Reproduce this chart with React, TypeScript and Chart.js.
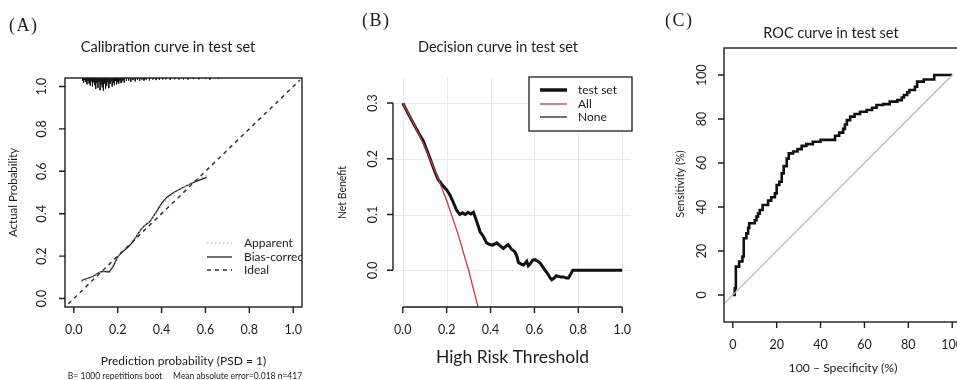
import React, { useEffect, useRef } from "react";
import { Chart, registerables } from "chart.js";

Chart.register(...registerables);

const SANS = "Lato, 'Open Sans', Arial, sans-serif";
const SERIF = "'Liberation Serif', 'DejaVu Serif', serif";
const INK = "#1c1c1c";

// ---------------- Panel A: calibration curve ----------------
const calTicks = [0, 0.2, 0.4, 0.6, 0.8, 1.0];
const calTickLabels = ["0.0", "0.2", "0.4", "0.6", "0.8", "1.0"];
const calPred = [0.035, 0.088, 0.119, 0.134, 0.161, 0.18, 0.202, 0.218, 0.248, 0.271, 0.294, 0.317, 0.347, 0.377, 0.40, 0.423, 0.453, 0.492, 0.53, 0.56, 0.606];
const biasCorrected = [0.085, 0.105, 0.125, 0.128, 0.125, 0.152, 0.199, 0.217, 0.243, 0.269, 0.308, 0.339, 0.363, 0.41, 0.449, 0.477, 0.499, 0.52, 0.54, 0.554, 0.571];
const apparent = [0.078, 0.1, 0.122, 0.13, 0.132, 0.16, 0.2, 0.222, 0.25, 0.274, 0.31, 0.338, 0.366, 0.405, 0.44, 0.47, 0.494, 0.518, 0.542, 0.56, 0.58];
const idealX = [-0.025, 1.03];
const rugX = [
  0.040, 0.045, 0.050, 0.055, 0.060, 0.065, 0.070, 0.075, 0.080, 0.085,
  0.090, 0.095, 0.100, 0.105, 0.110, 0.115, 0.120, 0.125, 0.130, 0.135,
  0.140, 0.145, 0.150, 0.155, 0.160, 0.165, 0.170, 0.175, 0.180, 0.185,
  0.190, 0.195, 0.200, 0.205, 0.210, 0.215, 0.220, 0.225, 0.230, 0.240,
  0.250, 0.260, 0.270, 0.280, 0.290, 0.300, 0.310, 0.320, 0.330, 0.345,
  0.360, 0.375, 0.390, 0.405, 0.420, 0.440, 0.460, 0.480, 0.500, 0.520,
  0.545, 0.570, 0.600, 0.620, 0.660,
];
const rugH = [
  0.012, 0.022, 0.010, 0.018, 0.030, 0.014, 0.026, 0.036, 0.016, 0.040,
  0.020, 0.034, 0.052, 0.024, 0.046, 0.018, 0.058, 0.030, 0.044, 0.060,
  0.026, 0.050, 0.036, 0.020, 0.048, 0.028, 0.016, 0.040, 0.022, 0.034,
  0.014, 0.030, 0.020, 0.026, 0.012, 0.024, 0.016, 0.010, 0.022, 0.014,
  0.012, 0.018, 0.010, 0.016, 0.009, 0.014, 0.008, 0.012, 0.008, 0.011,
  0.007, 0.010, 0.008, 0.007, 0.006, 0.009, 0.006, 0.007, 0.006, 0.007,
  0.005, 0.006, 0.005, 0.008, 0.005,
];
const calLegend = ["Apparent", "Bias-corrected", "Ideal"];

// ---------------- Panel B: decision curve ----------------
const dcXTicks = [0, 0.2, 0.4, 0.6, 0.8, 1.0];
const dcXLabels = ["0.0", "0.2", "0.4", "0.6", "0.8", "1.0"];
const dcYTicks = [0, 0.1, 0.2, 0.3];
const dcYLabels = ["0.0", "0.1", "0.2", "0.3"];
const thrTest = [
  0, 0.03, 0.06, 0.093, 0.12, 0.145, 0.161, 0.18, 0.2, 0.215,
  0.23, 0.245, 0.26, 0.272, 0.285, 0.298, 0.31, 0.322, 0.333, 0.345,
  0.352, 0.365, 0.382, 0.397, 0.41, 0.428, 0.443, 0.458, 0.47, 0.48,
  0.495, 0.511, 0.52, 0.527, 0.54, 0.55, 0.565, 0.572, 0.58, 0.592,
  0.603, 0.615, 0.626, 0.638, 0.648, 0.66, 0.67, 0.679, 0.69, 0.7,
  0.709, 0.72, 0.732, 0.745, 0.755, 0.765, 0.775, 1.0,
];
const nbTest = [
  0.30, 0.277, 0.255, 0.232, 0.205, 0.178, 0.163, 0.153, 0.144, 0.135,
  0.122, 0.108, 0.100, 0.103, 0.100, 0.104, 0.101, 0.104, 0.092, 0.078,
  0.069, 0.062, 0.049, 0.046, 0.045, 0.049, 0.044, 0.039, 0.043, 0.046,
  0.038, 0.033, 0.025, 0.014, 0.011, 0.009, 0.016, 0.008, 0.011, 0.018,
  0.019, 0.016, 0.013, 0.006, 0.000, -0.006, -0.013, -0.017, -0.014, -0.010,
  -0.011, -0.012, -0.012, -0.014, -0.014, -0.007, 0.000, 0.000,
];
const thrAll = [0, 0.05, 0.1, 0.15, 0.2, 0.25, 0.3, 0.35];
const nbAll = [0.30, 0.263, 0.222, 0.176, 0.125, 0.067, 0.0, -0.077];
const thrNone = [0, 1];
const nbNone = [0, 0];
const dcLegend = ["test set", "All", "None"];

// ---------------- Panel C: ROC curve ----------------
const rocTicks = [0, 20, 40, 60, 80, 100];
const rocFpr = [
  0, 0.9, 0.9, 1.4, 1.4, 2.9, 2.9, 4.4, 4.4, 5, 5, 6.2, 6.2, 7, 7, 7.5, 7.5, 10, 10, 10.8,
  10.8, 11.5, 11.5, 12.3, 12.3, 13.6, 13.6, 16.1, 16.1, 17.5, 17.5, 19.2, 19.2, 20, 20, 21.2, 21.2, 22.3, 22.3, 23.2,
  23.2, 24.6, 24.6, 25.5, 25.5, 27.5, 27.5, 29.5, 29.5, 31.4, 31.4, 33.5, 33.5, 36.5, 36.5, 40, 40, 46.6, 46.6, 48.5,
  48.5, 50.3, 50.3, 51.1, 51.1, 52, 52, 53.5, 53.5, 55.5, 55.5, 58, 58, 61, 61, 63.5, 63.5, 65.5, 65.5, 68.5,
  68.5, 71.5, 71.5, 75, 75, 77, 77, 78, 78, 79.5, 79.5, 80.5, 80.5, 83, 83, 84, 84, 87, 87, 91.8,
  91.8, 100,
];
const rocTpr = [
  0, 0, 3, 3, 12.9, 12.9, 15.2, 15.2, 17.5, 17.5, 25.8, 25.8, 28, 28, 30.5, 30.5, 32.6, 32.6, 34, 34,
  35.6, 35.6, 37, 37, 38.6, 38.6, 40.9, 40.9, 42.9, 42.9, 44.4, 44.4, 46.2, 46.2, 50, 50, 51.5, 51.5, 55.3, 55.3,
  58.6, 58.6, 62, 62, 64.4, 64.4, 65.2, 65.2, 66.3, 66.3, 67.8, 67.8, 68.6, 68.6, 69.7, 69.7, 70.5, 70.5, 72.4, 72.4,
  73.8, 73.8, 75.5, 75.5, 77.5, 77.5, 79.5, 79.5, 81.1, 81.1, 82.3, 82.3, 83.3, 83.3, 84.1, 84.1, 85.1, 85.1, 86.4, 86.4,
  86.8, 86.8, 87.9, 87.9, 88.6, 88.6, 89.8, 89.8, 90.9, 90.9, 92.2, 92.2, 93.2, 93.2, 94.7, 94.7, 97, 97, 98, 98,
  100, 100,
];
const diagX = [-4, 100];

// ---------------- helpers ----------------
const pts = (xs: number[], ys: number[]) => xs.map((x, i) => ({ x, y: ys[i] }));

function txt(ctx: CanvasRenderingContext2D, s: string, x: number, y: number, font: string, align: CanvasTextAlign = "center", rot = 0, color = INK, spacing = "0px") {
  ctx.save();
  ctx.translate(x, y);
  if (rot) ctx.rotate(rot);
  ctx.font = font;
  (ctx as any).letterSpacing = spacing;
  ctx.fillStyle = color;
  ctx.textAlign = align;
  ctx.textBaseline = "middle";
  ctx.fillText(s, 0, 0);
  ctx.restore();
}

function xTicks(chart: any, ticks: number[], labels: string[], y: number, len: number, labelY: number, font: string, lineFrom?: number, lineTo?: number) {
  const ctx = chart.ctx as CanvasRenderingContext2D;
  const xs = chart.scales.x;
  ctx.save();
  ctx.strokeStyle = INK;
  ctx.lineWidth = 1.4;
  ctx.beginPath();
  if (lineFrom !== undefined && lineTo !== undefined) {
    ctx.moveTo(xs.getPixelForValue(lineFrom), y);
    ctx.lineTo(xs.getPixelForValue(lineTo), y);
  }
  ticks.forEach((t) => {
    const p = xs.getPixelForValue(t);
    ctx.moveTo(p, y);
    ctx.lineTo(p, y + len);
  });
  ctx.stroke();
  ctx.restore();
  ticks.forEach((t, i) => txt(ctx, labels[i], xs.getPixelForValue(t), labelY, font));
}

function yTicks(chart: any, ticks: number[], labels: string[], x: number, len: number, labelX: number, font: string, lineFrom?: number, lineTo?: number) {
  const ctx = chart.ctx as CanvasRenderingContext2D;
  const ys = chart.scales.y;
  ctx.save();
  ctx.strokeStyle = INK;
  ctx.lineWidth = 1.4;
  ctx.beginPath();
  if (lineFrom !== undefined && lineTo !== undefined) {
    ctx.moveTo(x, ys.getPixelForValue(lineFrom));
    ctx.lineTo(x, ys.getPixelForValue(lineTo));
  }
  ticks.forEach((t) => {
    const p = ys.getPixelForValue(t);
    ctx.moveTo(x, p);
    ctx.lineTo(x - len, p);
  });
  ctx.stroke();
  ctx.restore();
  ticks.forEach((t, i) => txt(ctx, labels[i], labelX, ys.getPixelForValue(t), font, "center", -Math.PI / 2));
}

function box(chart: any) {
  const ctx = chart.ctx as CanvasRenderingContext2D;
  const a = chart.chartArea;
  ctx.save();
  ctx.strokeStyle = INK;
  ctx.lineWidth = 1.4;
  ctx.strokeRect(a.left, a.top, a.right - a.left, a.bottom - a.top);
  ctx.restore();
}

function baseOptions(pad: any, xmin: number, xmax: number, ymin: number, ymax: number) {
  return {
    responsive: false,
    maintainAspectRatio: false,
    animation: false as const,
    devicePixelRatio: 1,
    events: [] as any[],
    layout: { padding: pad },
    plugins: { legend: { display: false }, tooltip: { enabled: false }, title: { display: false } },
    elements: { point: { radius: 0 }, line: { tension: 0 } },
    scales: {
      x: { type: "linear" as const, min: xmin, max: xmax, display: false },
      y: { type: "linear" as const, min: ymin, max: ymax, display: false },
    },
  };
}

const TICKF = `12.5px ${SANS}`;
const TITLEF = `14.5px ${SANS}`;

// ---------------- configs ----------------
function buildA(): any {
  const rug: any[] = [];
  rugX.forEach((x, i) => {
    rug.push({ x, y: 1.04 });
    rug.push({ x, y: 1.04 - rugH[i] });
    rug.push({ x, y: null });
  });
  return {
    type: "scatter",
    data: {
      datasets: [
        { label: "rug", data: rug, showLine: true, borderColor: "#111", borderWidth: 0.9, spanGaps: false },
        { label: "Ideal", data: pts(idealX, idealX), showLine: true, borderColor: "#333", borderWidth: 1.5, borderDash: [4, 4] },
        { label: "Apparent", data: pts(calPred, apparent), showLine: true, borderColor: "#aaaaaa", borderWidth: 1.2, borderDash: [1.5, 2.5] },
        { label: "Bias-corrected", data: pts(calPred, biasCorrected), showLine: true, borderColor: "#222", borderWidth: 1.3 },
      ],
    },
    options: baseOptions({ left: 65, top: 78, right: 16, bottom: 73 }, -0.04, 1.04, -0.04, 1.04),
    plugins: [
      {
        id: "rA",
        afterDraw(chart: any) {
          const ctx = chart.ctx as CanvasRenderingContext2D;
          const a = chart.chartArea;
          box(chart);
          xTicks(chart, calTicks, calTickLabels, a.bottom, 6, 330, TICKF);
          yTicks(chart, calTicks, calTickLabels, a.left, 6, 42, TICKF);
          // legend (clipped by the plot box)
          ctx.save();
          ctx.beginPath();
          ctx.rect(a.left, a.top, a.right - a.left, a.bottom - a.top);
          ctx.clip();
          const rows = [243, 257, 270];
          const styles = [
            { c: "#aaaaaa", w: 1.2, d: [1.5, 2.5] },
            { c: "#222", w: 1.3, d: [] as number[] },
            { c: "#333", w: 1.5, d: [4, 4] },
          ];
          rows.forEach((ry, i) => {
            ctx.strokeStyle = styles[i].c;
            ctx.lineWidth = styles[i].w;
            ctx.setLineDash(styles[i].d);
            ctx.beginPath();
            ctx.moveTo(207, ry);
            ctx.lineTo(232, ry);
            ctx.stroke();
            ctx.setLineDash([]);
            txt(ctx, calLegend[i], 244, ry, `12px ${SANS}`, "left");
          });
          ctx.restore();
          txt(ctx, "(A)", 9, 26, `18px ${SERIF}`, "left", 0, INK, "1.5px");
          txt(ctx, "Calibration curve in test set", 168, 47, TITLEF);
          txt(ctx, "Actual Probability", 13, (a.top + a.bottom) / 2, `11.5px ${SANS}`, "center", -Math.PI / 2);
          txt(ctx, "Prediction probability (PSD = 1)", (a.left + a.right) / 2, 361, `12px ${SANS}`);
          txt(ctx, "B= 1000 repetitions boot     Mean absolute error=0.018 n=417", 185, 376, `8.5px ${SANS}`);
        },
      },
    ],
  };
}

function buildB(): any {
  return {
    type: "scatter",
    data: {
      datasets: [
        { label: "All", data: pts(thrAll, nbAll), showLine: true, borderColor: "#c43c3c", borderWidth: 1.3 },
        { label: "None", data: pts(thrNone, nbNone), showLine: true, borderColor: "rgba(0,0,0,0)", borderWidth: 1.2 },
        { label: "test set", data: pts(thrTest, nbTest), showLine: true, borderColor: "#111", borderWidth: 3 },
      ],
    },
    options: baseOptions({ left: 76, top: 78, right: 9, bottom: 73 }, -0.04, 1.04, -0.066, 0.345),
    plugins: [
      {
        id: "gridB",
        beforeDatasetsDraw(chart: any) {
          const ctx = chart.ctx as CanvasRenderingContext2D;
          const a = chart.chartArea;
          ctx.save();
          ctx.strokeStyle = "#e9e9e9";
          ctx.lineWidth = 1;
          ctx.beginPath();
          dcXTicks.forEach((t) => {
            const p = Math.round(chart.scales.x.getPixelForValue(t)) + 0.5;
            ctx.moveTo(p, a.top);
            ctx.lineTo(p, a.bottom);
          });
          dcYTicks.forEach((t) => {
            const p = Math.round(chart.scales.y.getPixelForValue(t)) + 0.5;
            ctx.moveTo(a.left, p);
            ctx.lineTo(a.right, p);
          });
          ctx.stroke();
          ctx.restore();
        },
        afterDraw(chart: any) {
          const ctx = chart.ctx as CanvasRenderingContext2D;
          const a = chart.chartArea;
          xTicks(chart, dcXTicks, dcXLabels, a.bottom, 6, 330, TICKF, 0, 1);
          yTicks(chart, dcYTicks, dcYLabels, a.left - 1, 6, 55, TICKF, 0, 0.3);
          // legend box
          ctx.save();
          ctx.fillStyle = "#fff";
          ctx.fillRect(211, 77, 103, 54);
          ctx.strokeStyle = INK;
          ctx.lineWidth = 1.3;
          ctx.strokeRect(211, 77, 103, 54);
          const rows = [90, 104, 117];
          const st = [
            { c: "#111", w: 3.5 },
            { c: "#c43c3c", w: 1.3 },
            { c: "#222", w: 1.3 },
          ];
          rows.forEach((ry, i) => {
            ctx.strokeStyle = st[i].c;
            ctx.lineWidth = st[i].w;
            ctx.beginPath();
            ctx.moveTo(222, ry);
            ctx.lineTo(249, ry);
            ctx.stroke();
            txt(ctx, dcLegend[i], 260, ry, `12px ${SANS}`, "left");
          });
          ctx.restore();
          txt(ctx, "(B)", 44, 21, `18px ${SERIF}`, "left", 0, INK, "1.5px");
          txt(ctx, "Decision curve in test set", 180, 47, TITLEF);
          txt(ctx, "Net Benefit", 25, (a.top + a.bottom) / 2, `10.5px ${SANS}`, "center", -Math.PI / 2);
          txt(ctx, "High Risk Threshold", (a.left + a.right) / 2, 357, `17.5px ${SANS}`);
        },
      },
    ],
  };
}

function buildC(): any {
  return {
    type: "scatter",
    data: {
      datasets: [
        { label: "chance", data: pts(diagX, diagX), showLine: true, borderColor: "#b5b5b5", borderWidth: 1.2 },
        { label: "ROC", data: pts(rocFpr, rocTpr), showLine: true, borderColor: "#111", borderWidth: 2.6 },
      ],
    },
    options: baseOptions({ left: 84, top: 48, right: 9, bottom: 58 }, -4, 104, -12.3, 112.3),
    plugins: [
      {
        id: "rC",
        afterDraw(chart: any) {
          const ctx = chart.ctx as CanvasRenderingContext2D;
          const a = chart.chartArea;
          box(chart);
          const labels = rocTicks.map(String);
          xTicks(chart, rocTicks, labels, a.bottom, 6, 345, TICKF);
          yTicks(chart, rocTicks, labels, a.left, 6, 62, TICKF);
          txt(ctx, "(C)", 25, 21, `18px ${SERIF}`, "left", 0, INK, "1.5px");
          txt(ctx, "ROC curve in test set", 191, 33, TITLEF);
          txt(ctx, "Sensitivity (%)", 40, 184, `11px ${SANS}`, "center", -Math.PI / 2);
          txt(ctx, "100 \u2013 Specificity (%)", 203, 368, `12.2px ${SANS}`);
        },
      },
    ],
  };
}

function Panel({ left, width, build }: { left: number; width: number; build: () => any }) {
  const ref = useRef<HTMLCanvasElement>(null);
  useEffect(() => {
    const chart = new Chart(ref.current as HTMLCanvasElement, build());
    return () => chart.destroy();
  }, []);
  return (
    <canvas
      ref={ref}
      width={width}
      height={380}
      style={{ position: "absolute", left, top: 0, width, height: 380 }}
    />
  );
}

export default function App() {
  return (
    <div
      style={{
        position: "fixed",
        left: 0,
        top: 0,
        width: 957,
        height: 380,
        overflow: "hidden",
        background: "#fff",
      }}
    >
      <Panel left={0} width={318} build={buildA} />
      <Panel left={318} width={322} build={buildB} />
      <Panel left={640} width={330} build={buildC} />
    </div>
  );
}
